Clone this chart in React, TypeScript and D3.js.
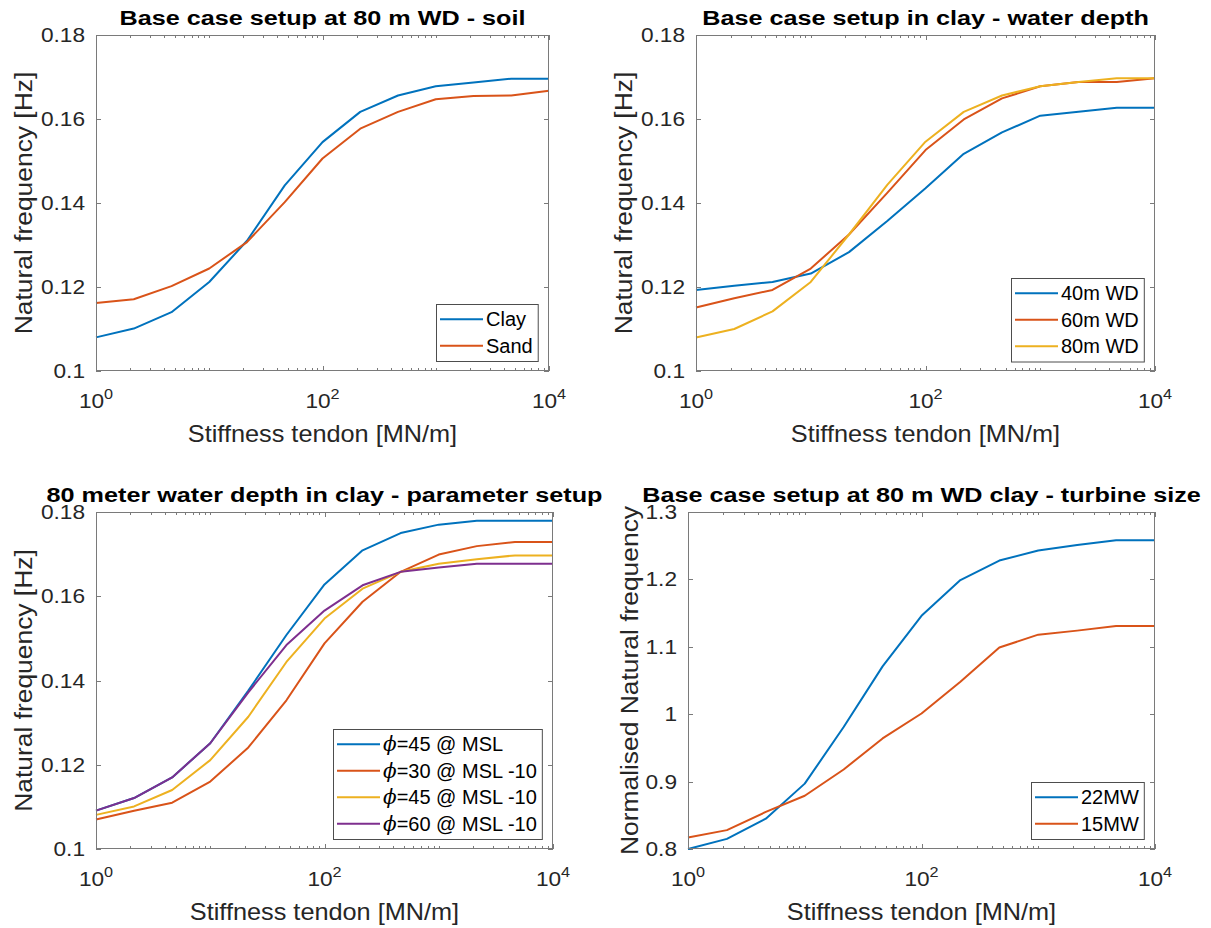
import React, { useEffect, useRef } from 'react';
import * as d3 from 'd3';

// tendon stiffness sample points [MN/m]
const stiffness = [1, 2.154, 4.642, 10, 21.54, 46.42, 100, 215.4, 464.2, 1000, 2154, 4642, 10000];

// panel 1 - soil
const soilNames = ['Clay', 'Sand'];
const soilClay = [0.108, 0.1101, 0.114, 0.1212, 0.131, 0.1442, 0.1545, 0.1617, 0.1656, 0.1678, 0.1687, 0.1696, 0.1696];
const soilSand = [0.1162, 0.1171, 0.1202, 0.1244, 0.1307, 0.1402, 0.1506, 0.1577, 0.1617, 0.1647, 0.1655, 0.1656, 0.1667];

// panel 2 - water depth
const depthNames = ['40m WD', '60m WD', '80m WD'];
const wd40 = [0.1193, 0.1203, 0.1212, 0.1232, 0.1283, 0.1357, 0.1435, 0.1517, 0.1568, 0.1608, 0.1617, 0.1627, 0.1627];
const wd60 = [0.1151, 0.1173, 0.1193, 0.1244, 0.1325, 0.1424, 0.1526, 0.1599, 0.1649, 0.1678, 0.1688, 0.1688, 0.1697];
const wd80 = [0.108, 0.11, 0.1142, 0.1212, 0.1325, 0.1443, 0.1546, 0.1617, 0.1656, 0.1678, 0.1688, 0.1697, 0.1697];

// panel 3 - parameter setup
const paramNames = ['=45 @ MSL', '=30 @ MSL -10', '=45 @ MSL -10', '=60 @ MSL -10'];
const phi45 = [0.1091, 0.1121, 0.117, 0.1251, 0.1376, 0.1508, 0.1628, 0.1709, 0.175, 0.177, 0.1779, 0.1779, 0.1779];
const phi30m10 = [0.107, 0.1091, 0.111, 0.116, 0.1241, 0.1353, 0.1488, 0.1587, 0.1658, 0.1699, 0.1719, 0.1729, 0.1729];
const phi45m10 = [0.1081, 0.1101, 0.114, 0.1211, 0.1314, 0.1444, 0.1547, 0.1618, 0.1658, 0.1677, 0.1688, 0.1697, 0.1697];
const phi60m10 = [0.1091, 0.1121, 0.117, 0.1251, 0.1372, 0.1484, 0.1566, 0.1626, 0.1658, 0.1668, 0.1677, 0.1677, 0.1677];

// panel 4 - turbine size (normalised)
const turbineNames = ['22MW', '15MW'];
const mw22 = [0.8, 0.815, 0.845, 0.897, 0.981, 1.071, 1.146, 1.199, 1.228, 1.243, 1.251, 1.258, 1.258];
const mw15 = [0.817, 0.828, 0.855, 0.879, 0.918, 0.964, 1.001, 1.048, 1.099, 1.118, 1.124, 1.131, 1.131];

const xTickExponents = [0, 2, 4];
const freqTicks = [0.1, 0.12, 0.14, 0.16, 0.18];
const normTicks = [0.8, 0.9, 1, 1.1, 1.2, 1.3];

const colors = ['#0072BD', '#D95319', '#EDB120', '#7E2F8E'];
const FONT = "'Liberation Sans', Arial, Helvetica, sans-serif";
const W = 1211;
const H = 928;

const panels = [
  {
    title: 'Base case setup at 80 m WD - soil',
    ylabel: 'Natural frequency [Hz]',
    yTicks: freqTicks,
    series: [soilClay, soilSand],
    names: soilNames,
    phi: false,
    box: { l: 96, t: 35, r: 549, b: 371 },
    ylabelOffset: 64,
  },
  {
    title: 'Base case setup in clay - water depth',
    ylabel: 'Natural frequency [Hz]',
    yTicks: freqTicks,
    series: [wd40, wd60, wd80],
    names: depthNames,
    phi: false,
    box: { l: 696, t: 35, r: 1155, b: 371 },
    ylabelOffset: 64,
  },
  {
    title: '80 meter water depth in clay - parameter setup',
    ylabel: 'Natural frequency [Hz]',
    yTicks: freqTicks,
    series: [phi45, phi30m10, phi45m10, phi60m10],
    names: paramNames,
    phi: true,
    box: { l: 96, t: 512, r: 553, b: 849 },
    ylabelOffset: 64,
  },
  {
    title: 'Base case setup at 80 m WD clay - turbine size',
    ylabel: 'Normalised Natural frequency',
    yTicks: normTicks,
    series: [mw22, mw15],
    names: turbineNames,
    phi: false,
    box: { l: 688, t: 512, r: 1155, b: 849 },
    ylabelOffset: 50,
  },
];

export default function App() {
  const svgRef = useRef<SVGSVGElement>(null);

  useEffect(() => {
    if (!svgRef.current) return;
    document.body.style.margin = '0';

    const svg = d3.select(svgRef.current);
    svg.selectAll('*').remove();

    const axisColor = '#7a7a7a';
    const textColor = '#262626';

    // text helper: sx stretches glyphs along the text direction
    const addText = (parent: any, txt: string, x: number, y: number, o: any) => {
      return parent
        .append('text')
        .attr('transform', `translate(${x},${y}) rotate(${o.rotate || 0}) scale(${o.sx || 1},1)`)
        .attr('text-anchor', o.anchor || 'middle')
        .attr('font-family', FONT)
        .attr('font-size', o.size)
        .attr('font-weight', o.weight || 'normal')
        .attr('fill', o.fill || textColor)
        .text(txt);
    };

    panels.forEach((p) => {
      const { l, t, r, b } = p.box;
      const g = svg.append('g');

      const x = d3.scaleLog().domain([1, 1e4]).range([l, r]);
      const yMin = p.yTicks[0];
      const yMax = p.yTicks[p.yTicks.length - 1];
      const y = d3.scaleLinear().domain([yMin, yMax]).range([b, t]);

      // white plot area
      g.append('rect')
        .attr('x', l)
        .attr('y', t)
        .attr('width', r - l)
        .attr('height', b - t)
        .attr('fill', '#fff');

      // minor + major ticks on x (bottom and top)
      const majors = xTickExponents.map((e) => Math.pow(10, e));
      x.ticks().forEach((v) => {
        const isMajor = majors.some((m) => Math.abs(m - v) < 1e-6);
        const len = isMajor ? 5 : 3;
        const px = Math.round(x(v)) + 0.5;
        g.append('line')
          .attr('x1', px).attr('x2', px)
          .attr('y1', b).attr('y2', b - len)
          .attr('stroke', axisColor);
        g.append('line')
          .attr('x1', px).attr('x2', px)
          .attr('y1', t).attr('y2', t + len)
          .attr('stroke', axisColor);
      });

      // y ticks (left and right)
      p.yTicks.forEach((v) => {
        const py = Math.round(y(v)) + 0.5;
        g.append('line')
          .attr('x1', l).attr('x2', l + 5)
          .attr('y1', py).attr('y2', py)
          .attr('stroke', axisColor);
        g.append('line')
          .attr('x1', r).attr('x2', r - 5)
          .attr('y1', py).attr('y2', py)
          .attr('stroke', axisColor);
        addText(g, d3.format('~g')(v), l - 11, y(v) + 7, { size: 21, sx: 1.08, anchor: 'end' });
      });

      // x tick labels 10^n
      xTickExponents.forEach((e) => {
        const tx = g
          .append('text')
          .attr('transform', `translate(${x(Math.pow(10, e))},${b + 37}) scale(1.08,1)`)
          .attr('text-anchor', 'middle')
          .attr('font-family', FONT)
          .attr('font-size', 21)
          .attr('fill', textColor);
        tx.append('tspan').text('10');
        tx.append('tspan').attr('dy', -9).attr('font-size', 15).text(String(e));
      });

      // data lines
      const line = d3
        .line<number>()
        .x((d, i) => x(stiffness[i]))
        .y((d) => y(d));

      p.series.forEach((s, i) => {
        g.append('path')
          .datum(s)
          .attr('d', line)
          .attr('fill', 'none')
          .attr('stroke', colors[i])
          .attr('stroke-width', 2)
          .attr('stroke-linejoin', 'round');
      });

      // axes box
      g.append('rect')
        .attr('x', l + 0.5)
        .attr('y', t + 0.5)
        .attr('width', r - l - 1)
        .attr('height', b - t - 1)
        .attr('fill', 'none')
        .attr('stroke', axisColor)
        .attr('stroke-width', 1);

      // title + axis labels
      addText(g, p.title, (l + r) / 2, t - 10, { size: 21, sx: 1.2, weight: 'bold', fill: '#000' });
      addText(g, 'Stiffness tendon [MN/m]', (l + r) / 2, b + 71, { size: 23, sx: 1.1 });
      addText(g, p.ylabel, l - p.ylabelOffset, (t + b) / 2, { size: 24, sx: 1.1, rotate: -90 });

      // legend, bottom-right ("southeast")
      const rowH = 26.5;
      const lg = g.append('g');
      const boxH = p.names.length * rowH + 4;
      const texts: any[] = [];
      p.names.forEach((n, i) => {
        const ty = i * rowH + rowH / 2 + 2;
        const tt = lg
          .append('text')
          .attr('x', 50)
          .attr('y', ty + 7)
          .attr('font-family', FONT)
          .attr('font-size', 20)
          .attr('fill', '#000');
        if (p.phi) {
          tt.append('tspan')
            .attr('font-family', "'DejaVu Serif', serif")
            .attr('font-style', 'italic')
            .text('ϕ');
        }
        tt.append('tspan').text(n);
        texts.push(tt);
        lg.append('line')
          .attr('x1', 4).attr('x2', 47)
          .attr('y1', ty).attr('y2', ty)
          .attr('stroke', colors[i])
          .attr('stroke-width', 2);
      });
      const textW = d3.max(texts, (tt: any) => (tt.node() as SVGTextElement).getComputedTextLength()) || 0;
      const boxW = 50 + textW + 5;
      lg.insert('rect', ':first-child')
        .attr('x', 0.5)
        .attr('y', 0.5)
        .attr('width', boxW)
        .attr('height', boxH)
        .attr('fill', '#fff')
        .attr('stroke', '#4d4d4d')
        .attr('stroke-width', 1);
      lg.attr('transform', `translate(${Math.round(r - 11 - boxW)},${Math.round(b - 10 - boxH)})`);
    });
  }, []);

  return (
    <svg
      ref={svgRef}
      width={W}
      height={H}
      style={{ display: 'block', background: '#fff' }}
    ></svg>
  );
}
